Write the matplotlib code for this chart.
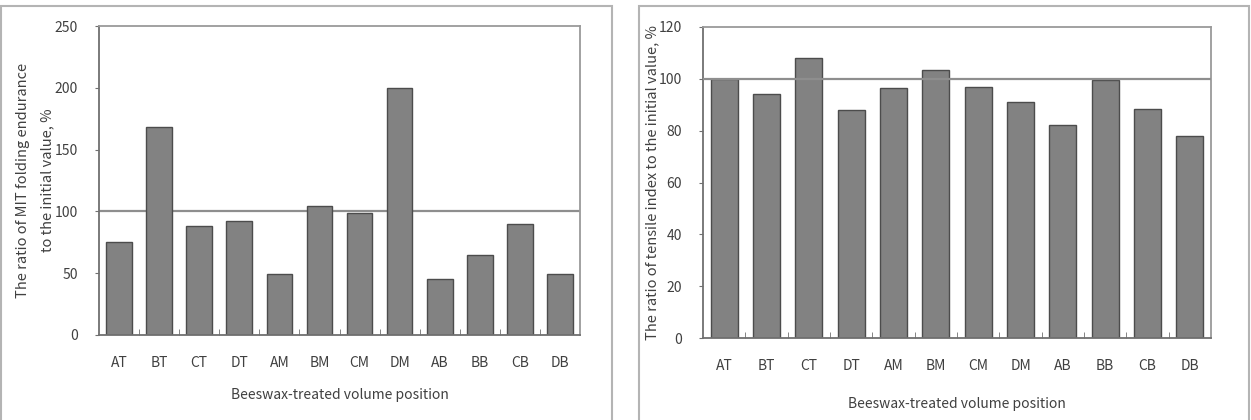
import matplotlib.pyplot as plt
from matplotlib.patches import Rectangle
import numpy as np

positions = ['AT', 'BT', 'CT', 'DT', 'AM', 'BM', 'CM', 'DM', 'AB', 'BB', 'CB', 'DB']
folding_ratio = [75, 168, 88, 92, 49, 104, 99, 200, 45, 65, 90, 49]
tensile_ratio = [100, 94, 108, 88, 96.5, 103.5, 97, 91, 82, 99.5, 88.5, 78]
initial_value = 100

plt.rcParams['font.family'] = ['Noto Sans CJK KR', 'DejaVu Sans']
text_color = '#404040'

W, H = 1251, 420
fig = plt.figure(figsize=(W / 100, H / 100), dpi=100)


def px_rect(x0, y0, x1, y1):
    # pixel box (top-left origin) -> figure fraction [left, bottom, width, height]
    return [x0 / W, 1 - y1 / H, (x1 - x0) / W, (y1 - y0) / H]


# outer frames around each panel
for x0, x1 in [(1, 612), (639, 1249)]:
    l, b, w, h = px_rect(x0, 6, x1, 440)
    fig.patches.append(Rectangle((l, b), w, h, transform=fig.transFigure,
                                 fill=False, edgecolor='#b4b4b4', linewidth=1.5))


def draw_panel(rect, values, ymax, ystep, ylabel, line_on_top, xlabel_y):
    ax = fig.add_axes(rect)
    x = np.arange(len(positions))
    ax.bar(x, values, width=0.64, color='#828282', edgecolor='#4c4c4c',
           linewidth=1.0, zorder=2)
    ax.axhline(initial_value, color='#8e8e8e', linewidth=1.6,
               zorder=3 if line_on_top else 1)
    ax.set_xlim(-0.5, len(positions) - 0.5)
    ax.set_ylim(0, ymax)
    ax.set_yticks(np.arange(0, ymax + 1, ystep))
    ax.set_xticks(x)
    ax.set_xticklabels(positions)
    ax.set_xticks(np.arange(0.5, len(positions) - 0.5), minor=True)
    ax.tick_params(axis='x', which='major', length=0, pad=15,
                   labelsize=10, labelcolor=text_color)
    ax.tick_params(axis='x', which='minor', direction='in', length=4,
                   color='#707070')
    ax.tick_params(axis='y', direction='out', length=3, color='#707070',
                   labelsize=10, labelcolor=text_color, pad=12)
    for side in ['left', 'bottom']:
        ax.spines[side].set_color('#707070')
        ax.spines[side].set_linewidth(1.3)
    for side in ['top', 'right']:
        ax.spines[side].set_color('#9a9a9a')
        ax.spines[side].set_linewidth(1.3)
    ax.set_ylabel(ylabel, fontsize=10.5, color=text_color, linespacing=2.0)
    ax.set_xlabel('Beeswax-treated volume position', fontsize=10,
                  color=text_color)
    ax.xaxis.set_label_coords(0.5, xlabel_y)
    return ax


ax1 = draw_panel(px_rect(99, 26, 580, 335), folding_ratio, 250, 50,
                 'The ratio of MIT folding endurance\nto the initial value, %',
                 False, -0.17)
ax1.yaxis.set_label_coords(-0.092, 0.5)

ax2 = draw_panel(px_rect(703, 27, 1211, 338), tensile_ratio, 120, 20,
                 'The ratio of tensile index to the initial value, %',
                 True, -0.19)
ax2.yaxis.set_label_coords(-0.086, 0.5)

fig.savefig('out.png', dpi=100)
